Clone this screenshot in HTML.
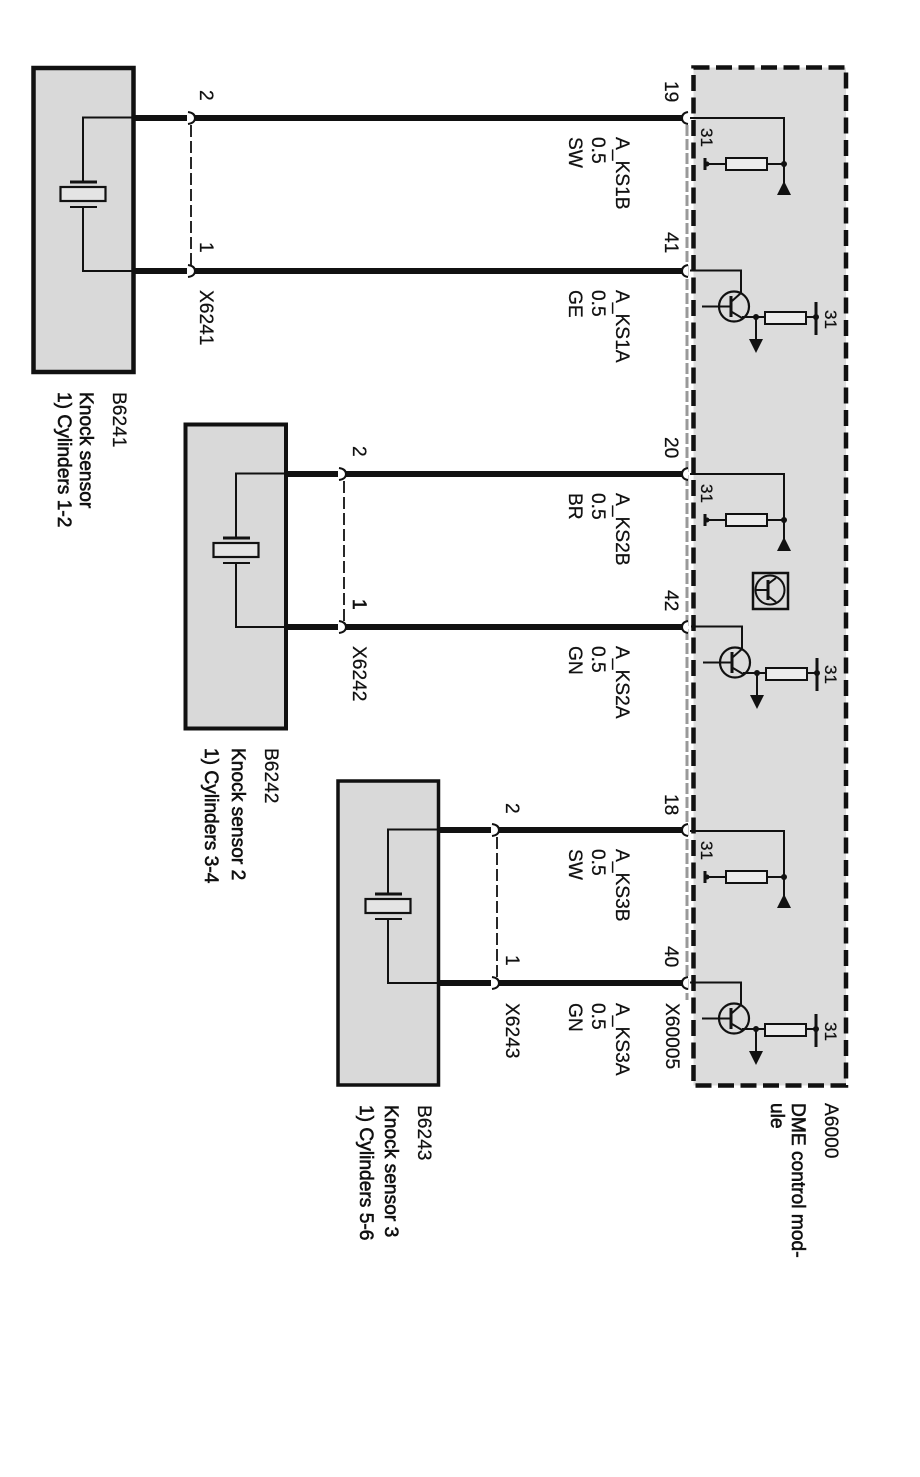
<!DOCTYPE html>
<html><head><meta charset="utf-8">
<style>
html,body{margin:0;padding:0;background:#fff}
svg{display:block;filter:blur(.35px)}
text{font-family:"Liberation Sans",sans-serif;font-size:19.2px;fill:#111;stroke:#111;stroke-width:.25px}
.b{stroke:#111;stroke-width:.6px}
.t{fill:none;stroke:#111;stroke-width:2}
</style></head>
<body>
<svg xmlns="http://www.w3.org/2000/svg" width="920" height="1477" viewBox="0 0 920 1477">
<defs>
<g id="rc">
 <path class="t" d="M690 118H784V185M784 164H705"/>
 <rect x="726" y="158" width="41" height="12" fill="#ececec" stroke="#111" stroke-width="2"/>
 <path d="M777 195H791L784 181Z" fill="#111"/>
 <circle cx="784" cy="164" r="3" fill="#111"/>
 <path d="M705 158V170" stroke="#111" stroke-width="3"/>
 <circle cx="707" cy="164" r="2.500" fill="#111"/>
</g>
<g id="tr">
 <path class="t" d="M690 270.500H741V293"/>
 <circle cx="734" cy="306.500" r="15" fill="none" stroke="#111" stroke-width="2.200"/>
 <path class="t" d="M702 306.500H730M741 293L732 301M732 312L742 318"/>
 <path d="M731 296V317" stroke="#111" stroke-width="3"/>
 <path class="t" d="M742 317H765M756 317V342M806 317H816"/>
 <rect x="765" y="312" width="41" height="12" fill="#ececec" stroke="#111" stroke-width="2"/>
 <circle cx="756" cy="317" r="3" fill="#111"/>
 <path d="M749 339H763L756 353Z" fill="#111"/>
 <path d="M816 302V335" stroke="#111" stroke-width="3"/>
 <circle cx="816" cy="317" r="3" fill="#111"/>
</g>
<g id="sn">
 <path class="t" d="M133 117.500H83V182M83 207V271H133"/>
 <path d="M70 182H97" stroke="#111" stroke-width="3"/>
 <path d="M70 207H97" stroke="#111" stroke-width="2"/>
 <rect x="60.500" y="187" width="45" height="14" fill="#e4e4e4" stroke="#111" stroke-width="2.200"/>
</g>
<g id="cp">
 <path d="M0 -6Q7 -5 7 0Q7 5 0 6" fill="#fff" stroke="#111" stroke-width="2"/>
</g>
<g id="cd">
 <path d="M6 -6Q0 -5 0 0Q0 5 6 6" fill="#fff" stroke="#111" stroke-width="2"/>
</g>
</defs>

<!-- DME module -->
<path d="M687 125V1000" stroke="#999" stroke-width="3" stroke-dasharray="11 3" fill="none"/>
<rect x="693.500" y="67.500" width="152.500" height="1018" fill="#dcdcdc" stroke="#111" stroke-width="4.500" stroke-dasharray="16 6.500"/>

<!-- Sensor boxes -->
<rect x="33.500" y="68" width="100" height="304" fill="#d9d9d9" stroke="#111" stroke-width="4.500"/>
<rect x="185.500" y="424.500" width="100.500" height="304" fill="#d9d9d9" stroke="#111" stroke-width="4"/>
<rect x="338" y="781" width="100.500" height="304" fill="#d9d9d9" stroke="#111" stroke-width="3.500"/>

<use href="#sn"/>
<use href="#sn" transform="translate(153 356)"/>
<use href="#sn" transform="translate(305 712)"/>

<!-- Wires -->
<g stroke="#111" stroke-width="6" fill="none">
 <path d="M134 118H187M195 118H682M134 271H187M195 271H682"/>
 <path d="M287 474H338M346 474H682M287 627H338M346 627H682"/>
 <path d="M439 830H491M499 830H682M439 983H491M499 983H682"/>
</g>
<g fill="none" stroke="#111" stroke-width="1.800" stroke-dasharray="12 4">
 <path d="M191 125V265"/>
 <path d="M344 481V621"/>
 <path d="M497 837V977"/>
</g>

<use href="#cp" x="188" y="118"/><use href="#cp" x="188" y="271"/>
<use href="#cp" x="339" y="474"/><use href="#cp" x="339" y="627"/>
<use href="#cp" x="492" y="830"/><use href="#cp" x="492" y="983"/>
<use href="#cd" x="682" y="118"/><use href="#cd" x="682" y="271"/>
<use href="#cd" x="682" y="474"/><use href="#cd" x="682" y="627"/>
<use href="#cd" x="682" y="830"/><use href="#cd" x="682" y="983"/>

<!-- Module internals -->
<use href="#rc"/><use href="#tr"/>
<use href="#rc" transform="translate(0 356)"/><use href="#tr" transform="translate(1 356)"/>
<use href="#rc" transform="translate(0 713)"/><use href="#tr" transform="translate(0 712)"/>

<!-- Transistor icon -->
<rect x="753" y="573" width="35" height="36" fill="none" stroke="#111" stroke-width="2.500"/>
<circle cx="770" cy="590" r="14.500" fill="none" stroke="#111" stroke-width="2"/>
<path class="t" d="M756 590H767M768 584L776 578M768 596L776 602"/>
<path d="M768 580V600" stroke="#111" stroke-width="3"/>

<!-- Labels -->
<text transform="translate(701 128) rotate(90)" style="font-size:17px">31</text>
<text transform="translate(825 310) rotate(90)" style="font-size:17px">31</text>
<text transform="translate(701 484) rotate(90)" style="font-size:17px">31</text>
<text transform="translate(825 665) rotate(90)" style="font-size:17px">31</text>
<text transform="translate(701 841) rotate(90)" style="font-size:17px">31</text>
<text transform="translate(825 1022) rotate(90)" style="font-size:17px">31</text>

<text transform="translate(665 81) rotate(90)">19</text>
<text transform="translate(665 232) rotate(90)">41</text>
<text transform="translate(665 437) rotate(90)">20</text>
<text transform="translate(665 590) rotate(90)">42</text>
<text transform="translate(665 794) rotate(90)">18</text>
<text transform="translate(665 946) rotate(90)">40</text>
<text transform="translate(666 1003) rotate(90)">X60005</text>

<text transform="translate(200 90) rotate(90)">2</text>
<text transform="translate(200 242) rotate(90)">1</text>
<text transform="translate(200 290) rotate(90)">X6241</text>
<text transform="translate(353 446) rotate(90)">2</text>
<text class="b" transform="translate(353 599) rotate(90)">1</text>
<text transform="translate(353 646) rotate(90)">X6242</text>
<text transform="translate(506 803) rotate(90)">2</text>
<text transform="translate(506 955) rotate(90)">1</text>
<text transform="translate(506 1003) rotate(90)">X6243</text>

<text transform="translate(616 137) rotate(90)">A_KS1B</text>
<text transform="translate(592 137) rotate(90)">0.5</text>
<text transform="translate(569 137) rotate(90)">SW</text>
<text transform="translate(616 290) rotate(90)">A_KS1A</text>
<text transform="translate(592 290) rotate(90)">0.5</text>
<text transform="translate(569 290) rotate(90)">GE</text>

<text transform="translate(616 493) rotate(90)">A_KS2B</text>
<text transform="translate(592 493) rotate(90)">0.5</text>
<text transform="translate(569 493) rotate(90)">BR</text>
<text transform="translate(616 646) rotate(90)">A_KS2A</text>
<text transform="translate(592 646) rotate(90)">0.5</text>
<text transform="translate(569 646) rotate(90)">GN</text>

<text transform="translate(616 849) rotate(90)">A_KS3B</text>
<text transform="translate(592 849) rotate(90)">0.5</text>
<text transform="translate(569 849) rotate(90)">SW</text>
<text transform="translate(616 1003) rotate(90)">A_KS3A</text>
<text transform="translate(592 1003) rotate(90)">0.5</text>
<text transform="translate(569 1003) rotate(90)">GN</text>

<text transform="translate(113 392) rotate(90)">B6241</text>
<text class="b" transform="translate(80 392) rotate(90)">Knock sensor</text>
<text class="b" transform="translate(58 392) rotate(90)">1) Cylinders 1-2</text>

<text transform="translate(265 748) rotate(90)">B6242</text>
<text class="b" transform="translate(232 748) rotate(90)">Knock sensor 2</text>
<text class="b" transform="translate(205 748) rotate(90)">1) Cylinders 3-4</text>

<text transform="translate(418 1105) rotate(90)">B6243</text>
<text class="b" transform="translate(385 1105) rotate(90)">Knock sensor 3</text>
<text class="b" transform="translate(360 1105) rotate(90)">1) Cylinders 5-6</text>

<text transform="translate(825 1103) rotate(90)">A6000</text>
<text class="b" transform="translate(792 1103) rotate(90)">DME control mod-</text>
<text class="b" transform="translate(771 1103) rotate(90)">ule</text>
</svg>
</body></html>
